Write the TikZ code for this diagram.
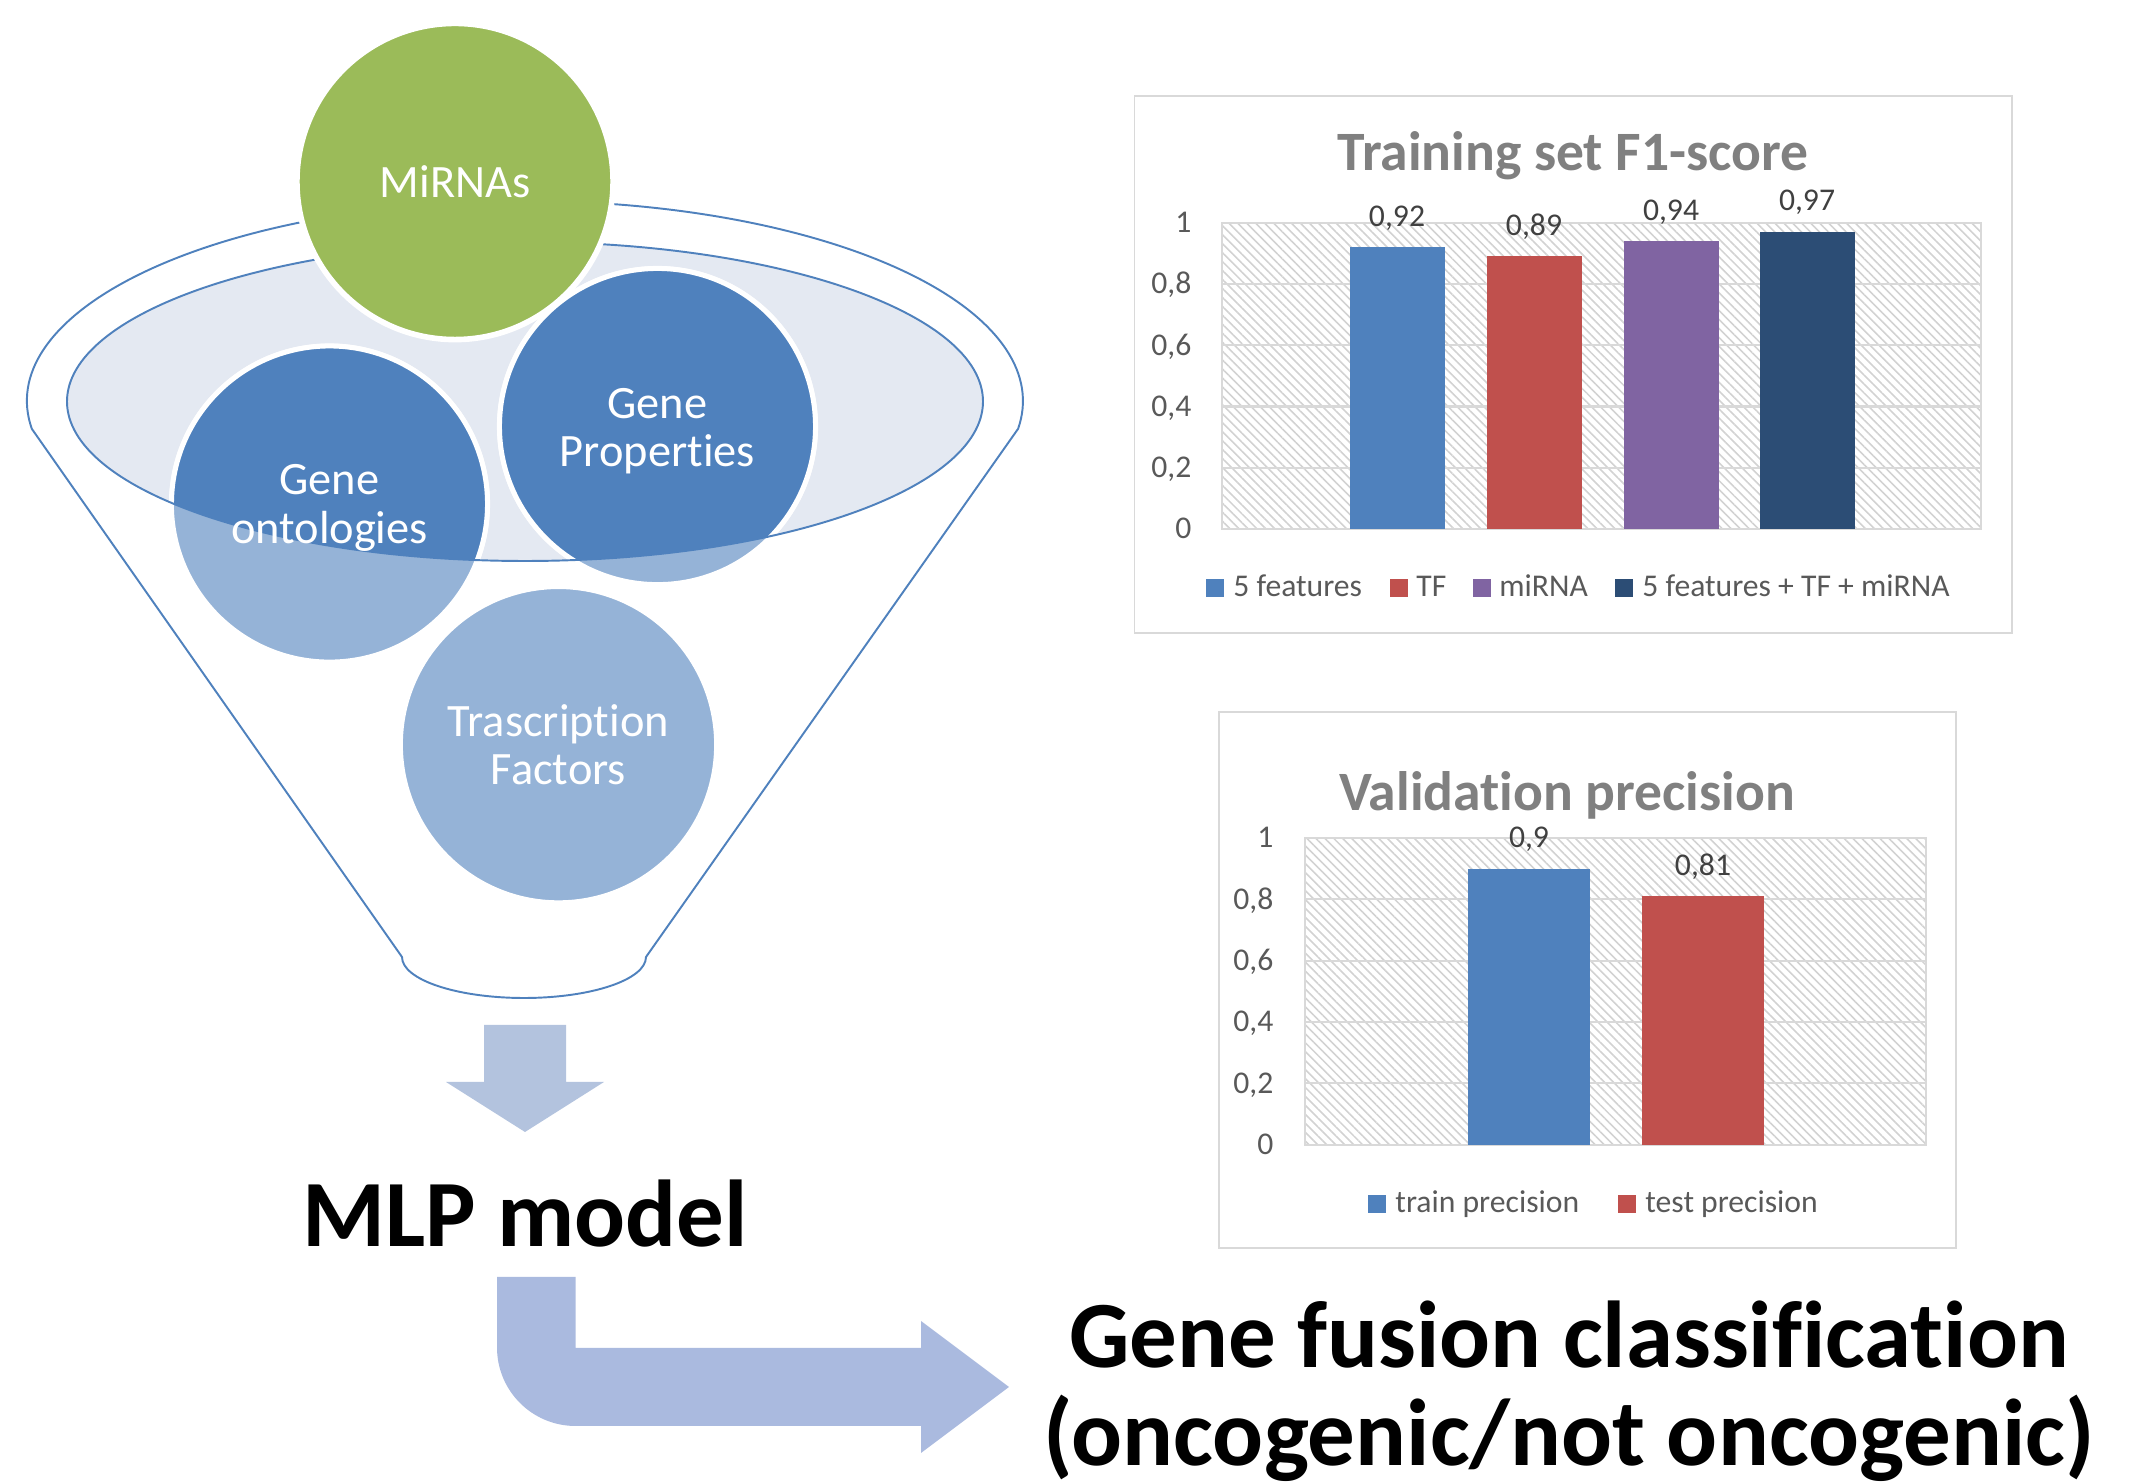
\documentclass[tikz,border=0pt]{standalone}
\usepackage{fontspec}
\setmainfont{Carlito}[Ligatures=NoCommon]
\usepackage{tikz}
\usetikzlibrary{positioning, patterns.meta}
\definecolor{darkblu}{HTML}{4F81BD}
\definecolor{lightblu}{HTML}{95B3D7}
\definecolor{mirgreen}{HTML}{9BBB59}
\definecolor{bowlfill}{HTML}{E4E9F2}
\definecolor{arrowA}{HTML}{B3C3DE}
\definecolor{arrowB}{HTML}{AABADF}
\definecolor{serA}{HTML}{4F81BD}
\definecolor{serB}{HTML}{C0504D}
\definecolor{serC}{HTML}{8064A2}
\definecolor{serD}{HTML}{2C4D75}
\definecolor{gridgray}{HTML}{D9D9D9}
\definecolor{hatchgray}{HTML}{D2D2D2}
\definecolor{labelgray}{HTML}{595959}
\definecolor{titlegray}{HTML}{808080}
\tikzset{
	funnel/.style={draw=darkblu, line width=0.55pt}, % Contorno del embudo
	bubble/.style={circle, minimum size=3.16cm, inner sep=0pt, draw=white, line width=1.4pt,
		text=white, align=center, font=\fontsize{13.2}{13.7}\selectfont}, % Circulos
	bubbletxt/.style={inner sep=0pt, text=white, align=center, font=\fontsize{13.2}{13.7}\selectfont},
	bigtext/.style={inner sep=0pt, anchor=base, font=\fontsize{27}{27}\selectfont\bfseries},
	chartframe/.style={draw=gridgray, line width=0.45pt}, % Marco de las graficas
	gridln/.style={draw=gridgray, line width=0.6pt},
	hatched/.style={pattern={Lines[angle=-45, distance=1.8pt, line width=0.45pt]}, pattern color=hatchgray},
	charttitle/.style={inner sep=0pt, anchor=base, text=titlegray, font=\fontsize{15.8}{16}\selectfont\bfseries},
	axlbl/.style={inner sep=0pt, anchor=base east, text=labelgray, font=\fontsize{9}{10}\selectfont},
	datalbl/.style={inner sep=0pt, anchor=base, text=black!75, font=\fontsize{9}{10}\selectfont},
	legbox/.style={rectangle, minimum size=0.18cm, inner sep=0pt},
	legtxt/.style={inner sep=0pt, text height=5.1pt, text depth=0pt, text=labelgray, font=\fontsize{9}{10}\selectfont}
}

\begin{document}
\begin{tikzpicture}[x=0.01cm, y=-0.01cm]
	\path[use as bounding box] (0,0) rectangle (2153,1483);

	% Embudo
	\draw[funnel] (31.8,428.8) arc[start angle=172, end angle=368, x radius=498, y radius=200]
		-- (646,957) arc[start angle=0, end angle=180, x radius=122, y radius=41] -- cycle;
	\fill[bowlfill] (525,401.5) ellipse[x radius=458, y radius=159.5];

	\node[bubble, fill=lightblu] (tf) at (558.5,744.7) {Trascription\\Factors};
	\node[bubble, fill=lightblu] (genont) at (329.5,504) {};
	\node[bubble, fill=lightblu] (genprop) at (657.5,426.5) {};
	\begin{scope}
		\clip (525,401.5) ellipse[x radius=458, y radius=159.5];
		\filldraw[fill=darkblu, draw=white, line width=1.4pt] (genont.center) circle[radius=158];
		\filldraw[fill=darkblu, draw=white, line width=1.4pt] (genprop.center) circle[radius=158];
	\end{scope}
	\draw[funnel] (525,401.5) ellipse[x radius=458, y radius=159.5];
	\node[bubbletxt] (genonttxt) at (329.5,508) {Gene\\ontologies};
	\node[bubbletxt] (genproptxt) at (657.5,431) {Gene\\Properties};
	\node[bubble, fill=mirgreen, line width=1.6pt] (mirna) at (455,181.5) {MiRNAs};

	% Flechas y textos
	\fill[arrowA] (484,1025) -- (566,1025) -- (566,1082) -- (604,1082) -- (525,1132)
		-- (446,1082) -- (484,1082) -- cycle;
	\node[bigtext] (mlp) at (525,1247) {MLP model};
	\fill[arrowB] (497,1277) -- (575.5,1277) -- (575.5,1348) -- (921,1348) -- (921,1321)
		-- (1009,1387) -- (921,1453) -- (921,1426) -- (575.5,1426)
		arc[start angle=90, end angle=180, radius=78.5] -- cycle;
	\node[bigtext] (fusion) at (1569,1368) {Gene fusion classification};
	\node[bigtext] (onco) at (1569,1466) {(oncogenic/not oncogenic)};

	% Grafica 1
	\draw[chartframe] (1134.6,96) rectangle (2012,633);
	\node[charttitle] (titleA) at (1573,171) {Training set F1-score};
	\fill[hatched] (1222,222.7) rectangle (1981,529);
	\foreach \v in {0.2,0.4,0.6,0.8}
		\draw[gridln] (1222,{529-306.3*\v}) -- (1981,{529-306.3*\v});
	\draw[gridln] (1222,222.7) rectangle (1981,529);
	\foreach \v/\lbl [count=\k] in {0/0, 0.2/{0,2}, 0.4/{0,4}, 0.6/{0,6}, 0.8/{0,8}, 1/1}
		\node[axlbl] (yA\k) at (1192,{529-306.3*\v+10}) {\lbl};
	\foreach \xc/\v/\lbl/\col [count=\k] in {1397/0.92/{0,92}/serA, 1534/0.89/{0,89}/serB,
			1671/0.94/{0,94}/serC, 1807/0.97/{0,97}/serD} {
		\fill[\col] ({\xc-47.5},529) rectangle ({\xc+47.5},{529-306.3*\v});
		\node[datalbl] (valA\k) at (\xc,{529-306.3*\v-21}) {\lbl};
	}
	\node[legbox, fill=serA] (boxA1) at (1215,588) {};
	\node[legtxt, right=0.08cm of boxA1] (legA1) {5 features};
	\node[legbox, fill=serB] (boxA2) at (1399,588) {};
	\node[legtxt, right=0.07cm of boxA2] (legA2) {TF};
	\node[legbox, fill=serC] (boxA3) at (1482,588) {};
	\node[legtxt, right=0.07cm of boxA3] (legA3) {miRNA};
	\node[legbox, fill=serD] (boxA4) at (1624,588) {};
	\node[legtxt, right=0.08cm of boxA4] (legA4) {5 features + TF + miRNA};

	% Grafica 2
	\draw[chartframe] (1219,712) rectangle (1956,1248);
	\node[charttitle] (titleB) at (1567,811) {Validation precision};
	\fill[hatched] (1305,838) rectangle (1926,1144.6);
	\foreach \v in {0.2,0.4,0.6,0.8}
		\draw[gridln] (1305,{1144.6-306.6*\v}) -- (1926,{1144.6-306.6*\v});
	\draw[gridln] (1305,838) rectangle (1926,1144.6);
	\foreach \v/\lbl [count=\k] in {0/0, 0.2/{0,2}, 0.4/{0,4}, 0.6/{0,6}, 0.8/{0,8}, 1/1}
		\node[axlbl] (yB\k) at (1274,{1144.6-306.6*\v+10}) {\lbl};
	\foreach \xc/\v/\lbl/\col [count=\k] in {1529/0.9/{0,9}/serA, 1703/0.81/{0,81}/serB} {
		\fill[\col] ({\xc-61},1144.6) rectangle ({\xc+61},{1144.6-306.6*\v});
		\node[datalbl] (valB\k) at (\xc,{1144.6-306.6*\v-21}) {\lbl};
	}
	\node[legbox, fill=serA] (boxB1) at (1377,1204) {};
	\node[legtxt, right=0.08cm of boxB1] (legB1) {train precision};
	\node[legbox, fill=serB] (boxB2) at (1627,1204) {};
	\node[legtxt, right=0.08cm of boxB2] (legB2) {test precision};
\end{tikzpicture}
\end{document}
